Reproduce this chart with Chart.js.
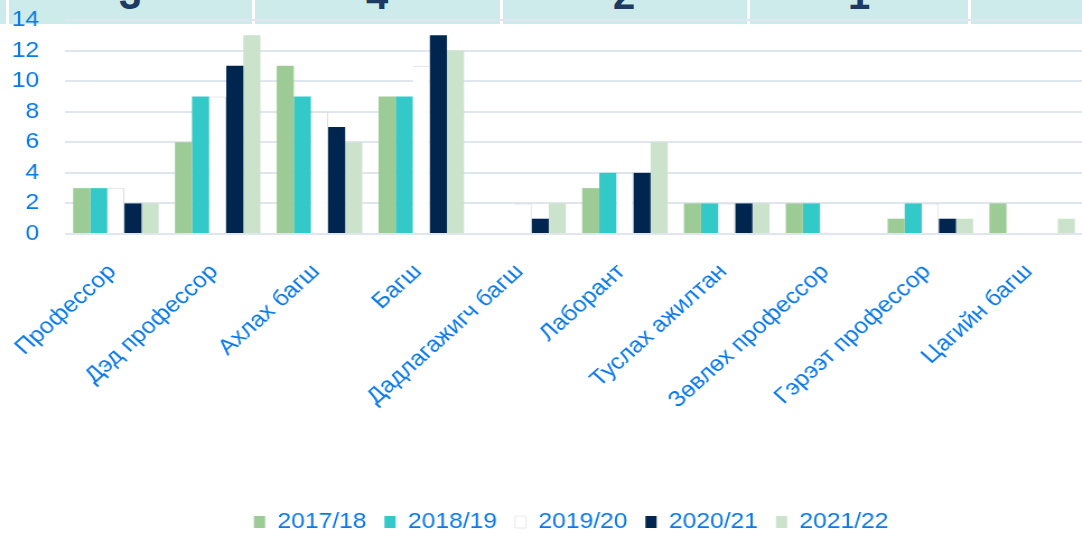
<!DOCTYPE html>
<html>
<head>
<meta charset="utf-8">
<script src="https://cdn.jsdelivr.net/npm/chart.js@4.4.1/dist/chart.umd.min.js"></script>
<style>
  html, body { margin: 0; padding: 0; background: #fff; overflow: hidden; }
  #stage { position: relative; width: 1082px; height: 534px; overflow: hidden; }
  .strip { position: absolute; left: 0; top: 0; width: 1082px; height: 24px; background: #cdebea; }
  .sep { position: absolute; top: 0; width: 3px; height: 24px; background: #fff; }
  .digit { position: absolute; top: -25px; font: bold 40px "Liberation Sans", Arial, sans-serif; line-height: 40px; color: #1c3a63; }
  #wrap { position: absolute; left: 0; top: 0; width: 1020px; height: 543px; transform: scaleX(1.12); transform-origin: 0 0; }
</style>
</head>
<body>
<div id="stage">
  <div class="strip"></div>
  <div class="sep" style="left:6px"></div>
  <div class="sep" style="left:252px"></div>
  <div class="sep" style="left:500px"></div>
  <div class="sep" style="left:747px"></div>
  <div class="sep" style="left:968px"></div>
  <div class="digit" style="left:119px">3</div>
  <div class="digit" style="left:366px">4</div>
  <div class="digit" style="left:613px">2</div>
  <div class="digit" style="left:848px">1</div>
  <div id="wrap"><canvas id="chart"></canvas></div>
</div>
<script>
const categories = ['Профессор', 'Дэд профессор', 'Ахлах багш', 'Багш', 'Дадлагажигч багш',
  'Лаборант', 'Туслах ажилтан', 'Зөвлөх профессор', 'Гэрээт профессор', 'Цагийн багш'];
const years = ['2017/18', '2018/19', '2019/20', '2020/21', '2021/22'];
const y2017 = [3, 6, 11, 9, 0, 3, 2, 2, 1, 2];
const y2018 = [3, 9, 9, 9, 0, 4, 2, 2, 2, 0];
const y2019 = [3, 9, 8, 11, 2, 4, 2, 0, 2, 0];
const y2020 = [2, 11, 7, 13, 1, 4, 2, 0, 1, 0];
const y2021 = [2, 13, 6, 12, 2, 6, 2, 0, 1, 1];
const yTicks = [0, 2, 4, 6, 8, 10, 12, 14];

const colors = ['#9dcb95', '#33c9c8', '#ffffff', '#00264f', '#cbe2cb'];
const BLUE = '#0a78e8';
const FONT = '"Liberation Sans", Arial, sans-serif';

const series = [y2017, y2018, y2019, y2020, y2021];
const datasets = series.map((values, i) => ({
  label: years[i],
  data: values,
  backgroundColor: colors[i],
  borderColor: i === 2 ? '#d6d6d6' : colors[i],
  borderWidth: i === 2 ? { top: 1, right: 1, left: 0, bottom: 0 } : 0,
  borderSkipped: 'bottom',
  categoryPercentage: 0.84,
  barPercentage: 1.0,
}));

new Chart(document.getElementById('chart'), {
  type: 'bar',
  data: { labels: categories, datasets },
  options: {
    responsive: true,
    maintainAspectRatio: false,
    animation: false,
    layout: { padding: { top: 20, right: 0, bottom: 0, left: 0 } },
    plugins: {
      tooltip: { enabled: false },
      legend: {
        position: 'bottom',
        labels: {
          color: BLUE,
          font: { family: FONT, size: 22 },
          boxWidth: 10,
          boxHeight: 12,
          padding: 16,
        },
      },
    },
    scales: {
      x: {
        grid: { display: false },
        border: { display: false },
        ticks: {
          color: BLUE,
          font: { family: FONT, size: 22 },
          maxRotation: 45,
          minRotation: 45,
          autoSkip: false,
          labelOffset: -3,
          padding: 17,
        },
        afterFit: scale => { scale.height = 261; },
      },
      y: {
        min: 0,
        max: 14,
        afterBuildTicks: scale => { scale.ticks = yTicks.map(v => ({ value: v })); },
        grid: { color: '#dfe6ef', lineWidth: 2, drawTicks: true, tickLength: 20, tickColor: 'rgba(0,0,0,0)' },
        border: { display: false },
        ticks: {
          color: BLUE,
          font: { family: FONT, size: 22 },
          autoSkip: false,
          padding: 3,
        },
        afterFit: scale => { scale.width = 58; },
      },
      // empty right-hand axis: keeps the plot clear of the right edge so the legend stays centred on the full width
      y2: {
        position: 'right',
        min: 0,
        max: 1,
        grid: { display: false },
        border: { display: false },
        ticks: { display: false },
        afterFit: scale => { scale.width = 53; },
      },
    },
  },
});
</script>
</body>
</html>
